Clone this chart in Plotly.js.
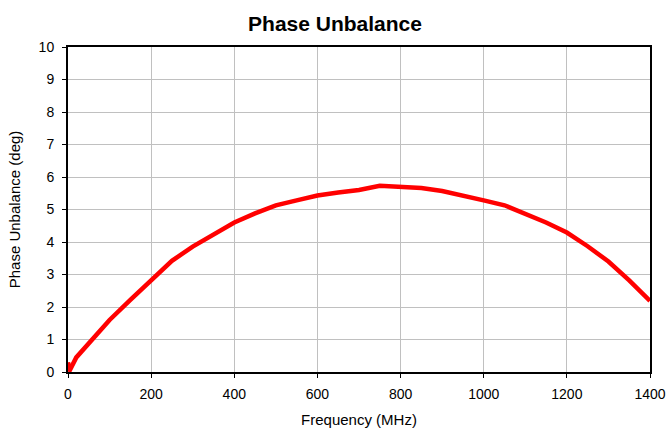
<!DOCTYPE html>
<html><head><meta charset="utf-8">
<script src="https://cdn.plot.ly/plotly-3.0.1.min.js"></script>
<style>html,body{margin:0;padding:0;background:#fff}#c{width:670px;height:433px}</style>
</head><body><div id="c"></div>
<script>
const freqMHz = [0, 3, 20, 70, 100, 150, 200, 250, 300, 350, 400, 450, 500, 550, 600, 650, 700, 750, 800, 850, 900, 950, 1000, 1050, 1100, 1150, 1200, 1250, 1300, 1350, 1400];
const phaseDeg = [0.3, 0.02, 0.45, 1.2, 1.6, 2.22, 2.83, 3.42, 3.86, 4.25, 4.6, 4.88, 5.13, 5.28, 5.43, 5.52, 5.6, 5.73, 5.68, 5.66, 5.57, 5.44, 5.28, 5.13, 4.88, 4.6, 4.29, 3.87, 3.4, 2.82, 2.19];
const xTicks = [0, 200, 400, 600, 800, 1000, 1200, 1400];
const yTicks = [0,1,2,3,4,5,6,7,8,9,10];

Plotly.newPlot('c', [{
  x: freqMHz, y: phaseDeg, type: 'scatter', mode: 'lines',
  line: {color: '#ff0000', width: 4.5}, cliponaxis: true, hoverinfo: 'skip'
}], {
  width: 670, height: 433,
  margin: {l: 68, r: 20, t: 47, b: 61},
  paper_bgcolor: '#fff', plot_bgcolor: '#fff',
  font: {family: 'Liberation Sans, Arial, sans-serif', color: '#000', size: 14},
  title: {text: '<b>Phase Unbalance</b>', font: {size: 21, family: 'Liberation Sans, Arial, sans-serif'}, x: 0.5, xanchor: 'center', y: 0.945, yanchor: 'middle'},
  showlegend: false,
  xaxis: {
    range: [0, 1400], tickvals: xTicks, ticktext: xTicks.map(String),
    showgrid: true, gridcolor: '#c0c0c0', gridwidth: 1,
    showline: true, linecolor: '#000', linewidth: 2, mirror: true,
    ticks: 'outside', ticklen: 4, tickcolor: '#000',
    zeroline: false, tickfont: {size: 14}, ticklabelstandoff: 4,
    title: {text: 'Frequency (MHz)', font: {size: 15}, standoff: 14}
  },
  yaxis: {
    range: [0, 10], tickvals: yTicks, ticktext: yTicks.map(String),
    showgrid: true, gridcolor: '#c0c0c0', gridwidth: 1,
    showline: true, linecolor: '#000', linewidth: 2, mirror: true,
    ticks: 'outside', ticklen: 4, tickcolor: '#000',
    zeroline: false, tickfont: {size: 14}, ticklabelstandoff: 5,
    title: {text: 'Phase Unbalance (deg)', font: {size: 15}, standoff: 14}
  }
}, {staticPlot: true, displayModeBar: false});
</script></body></html>
